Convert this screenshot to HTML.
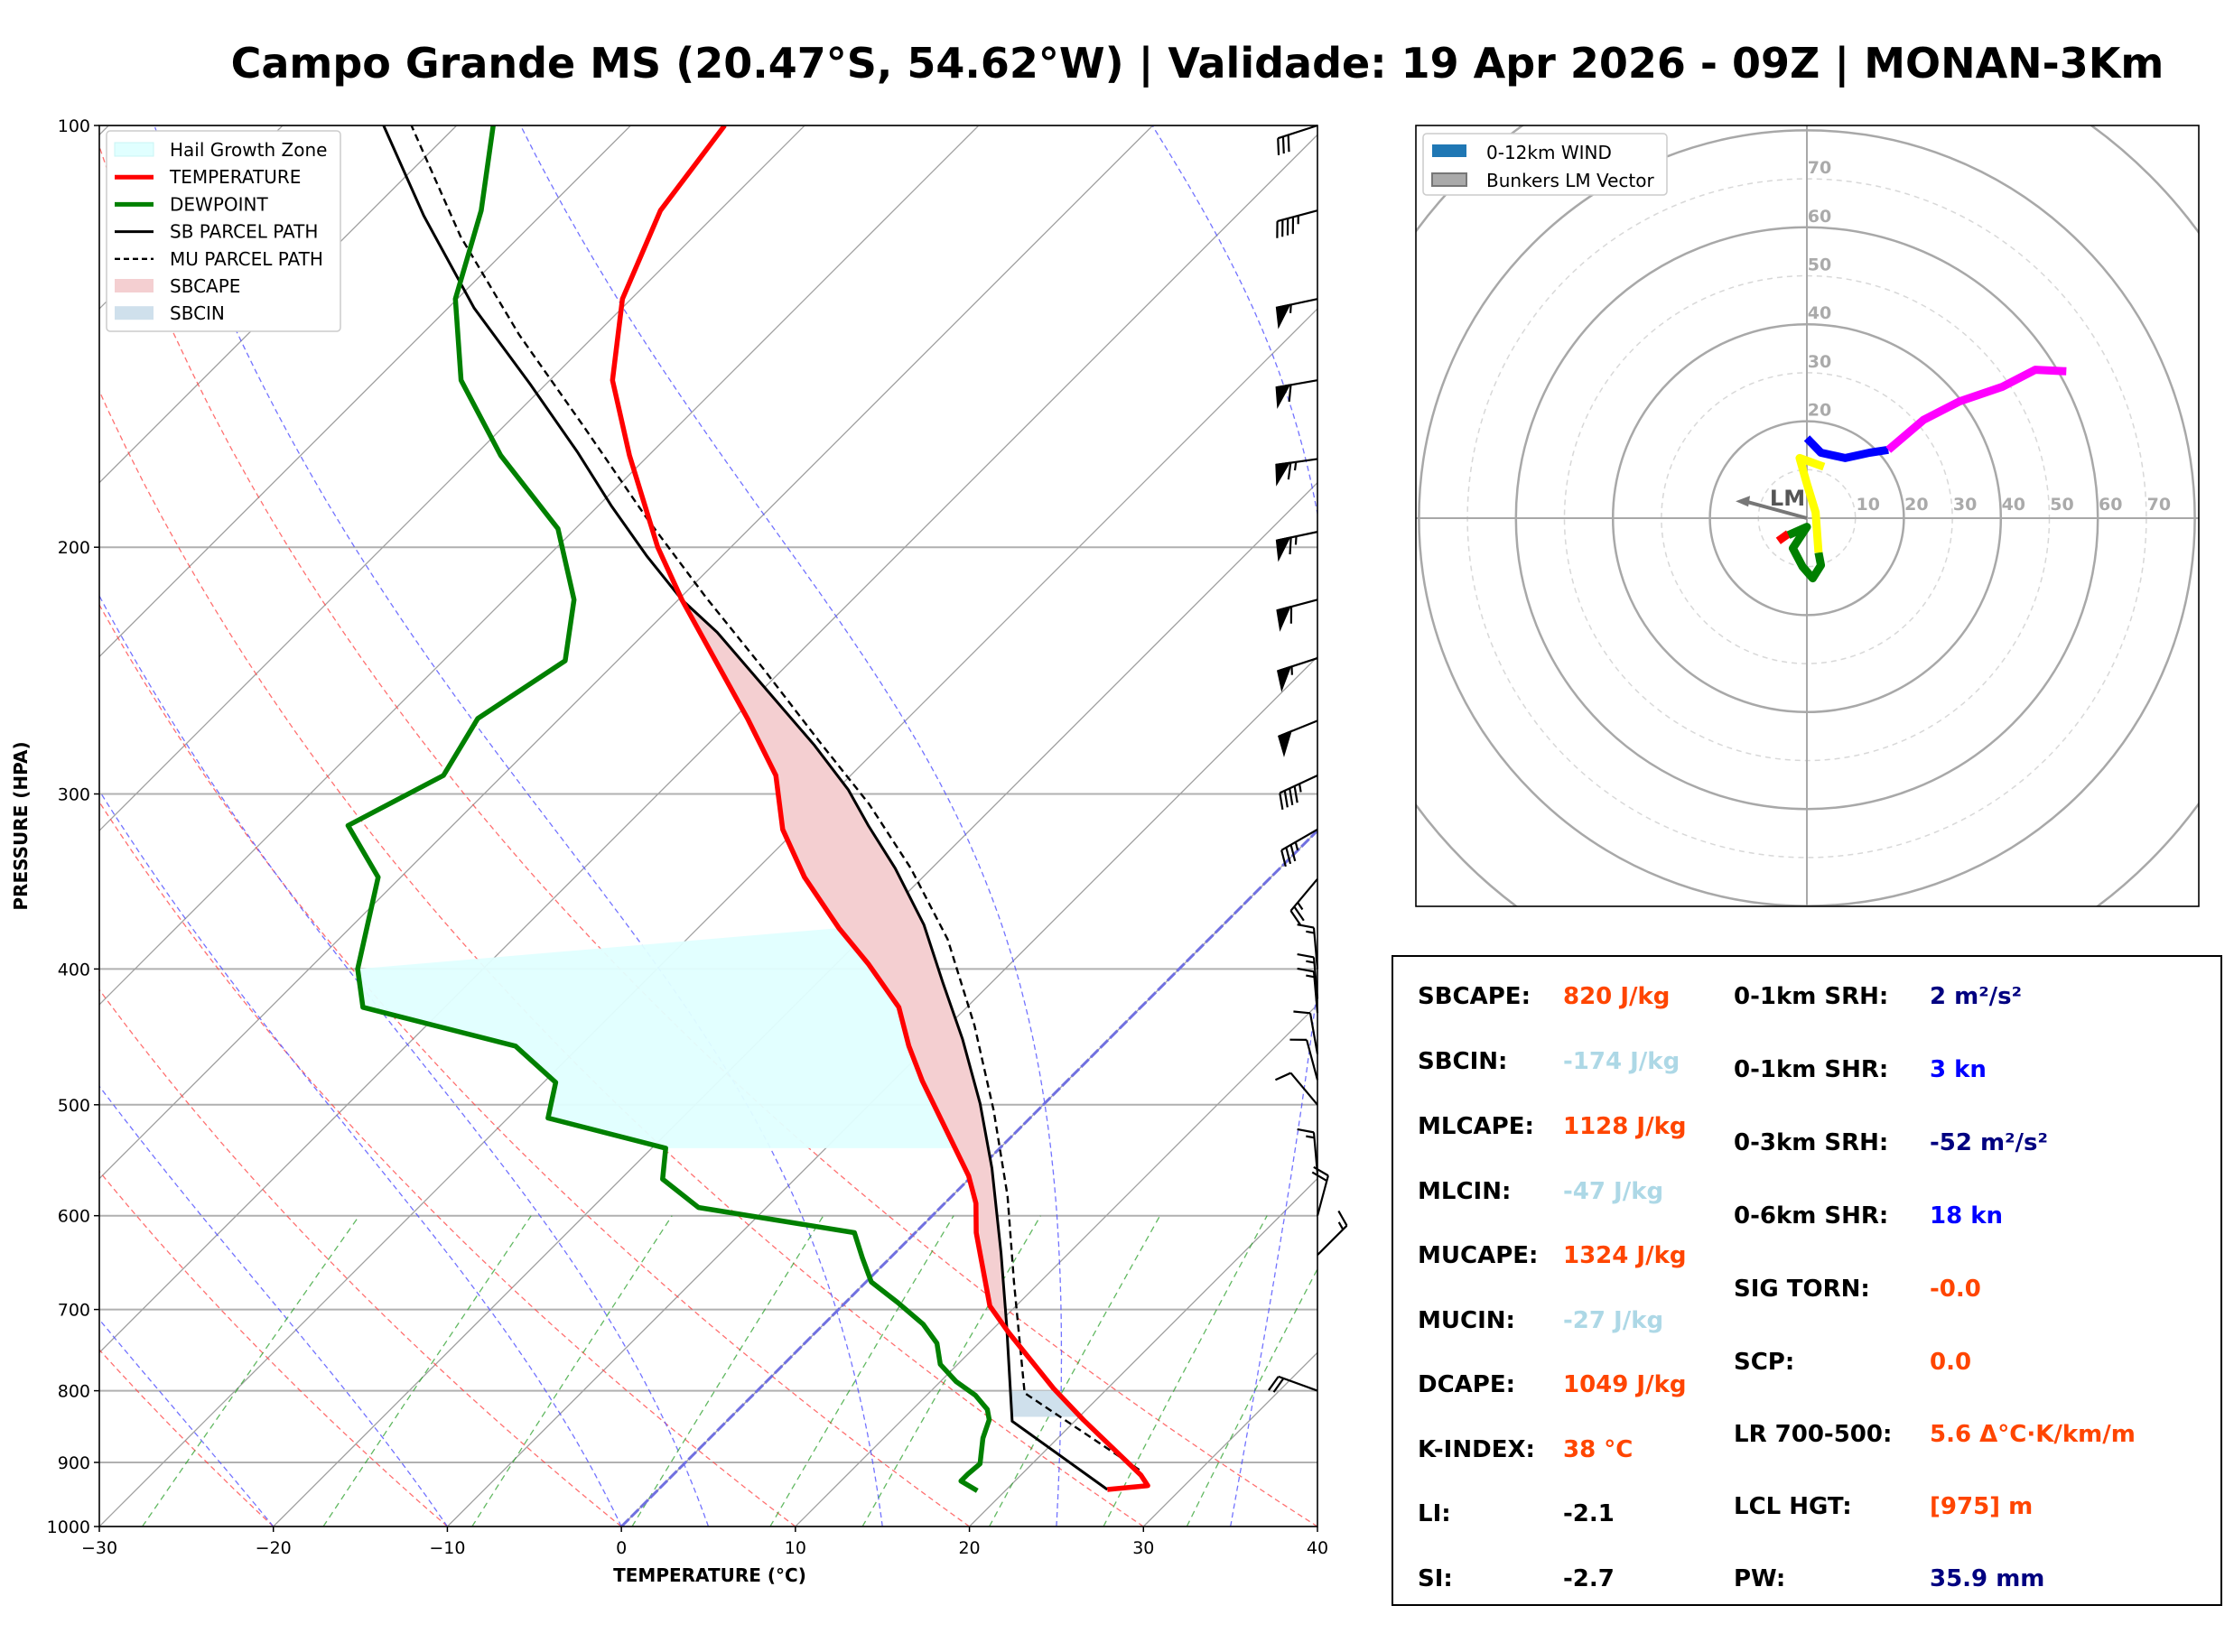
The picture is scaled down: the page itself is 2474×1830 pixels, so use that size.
<!DOCTYPE html>
<html><head><meta charset="utf-8"><style>
html,body{margin:0;padding:0;background:#fff;}
svg{display:block;font-family:"DejaVu Sans","Liberation Sans",sans-serif;}
</style></head><body>
<svg id="fig" width="2474" height="1830" viewBox="0 0 2474 1830" xmlns="http://www.w3.org/2000/svg">
<rect width="2474" height="1830" fill="#fff"/>
<text x="1326" y="86" text-anchor="middle" font-size="46" font-weight="bold">Campo Grande MS (20.47°S, 54.62°W) | Validade: 19 Apr 2026 - 09Z | MONAN-3Km</text>
<defs>
<clipPath id="skewclip"><rect x="110" y="139" width="1349" height="1552"/></clipPath>
<clipPath id="hodoclip"><rect x="1568" y="139" width="867" height="865"/></clipPath>
</defs>
<g id="skew"></g>
<g id="hodo"></g>
<g id="stats"></g>
</svg>
<script>
// ---- data (pressure hPa, temperature °C) ----
const tempP=[941,935,919,839,797,727,696,617,588,562,481,454,426,397,374,344,318,291,265,218,200,172,152,133,115,100];
const tempT=[25.8,27.9,26.9,20.4,16.9,11.1,8.5,3.5,1.8,-0.2,-8.3,-11.1,-13.9,-18.1,-21.9,-26.8,-30.8,-34.3,-39.2,-49.8,-54.2,-61.1,-66.4,-70.5,-73.4,-74.6];
const dewP=[943,928,917,902,865,839,825,806,788,766,740,717,692,669,643,617,592,565,537,511,482,454,426,400,344,316,291,265,241,218,194,172,152,133,115,100];
const dewT=[18.4,16.9,16.9,17.0,15.7,15.0,14.3,12.8,10.9,9.0,7.6,5.7,3.0,0.3,-1.6,-3.5,-13.9,-17.6,-19.2,-27.7,-29.3,-33.7,-44.7,-47.2,-51.3,-56.0,-53.4,-54.7,-53.0,-56.0,-61.0,-68.5,-75.1,-80.1,-83.7,-87.9];
const sbP=[941,841,717,638,555,499,449,409,372,339,316,298,277,253,230,218,203,187,171,153,135,116,100];
const sbT=[25.8,16.4,10.5,6.1,0.7,-3.7,-8.4,-12.8,-17.2,-22.1,-26.1,-29.3,-33.8,-39.7,-45.9,-49.8,-54.3,-59.2,-64.3,-70.9,-78.5,-86.7,-94.2];
const muP=[911,803,669,581,505,439,381,339,305,275,244,217,191,164,141,120,100];
const muT=[26.5,15.5,8.5,3.2,-2.5,-8.5,-15,-21.2,-27.3,-33.8,-41.2,-48.6,-56.4,-65.4,-74.4,-83.4,-92.6];
const pTicks=[100,200,300,400,500,600,700,800,900,1000];
const tTicks=[-30,-20,-10,0,10,20,30,40];
const barbP=[100,115,133,152,173,195,218,240,266,291,318,345,400,420,430,460,480,500,560,600,640,800];
const barbDir=[252,255,258,260,262,258,255,252,248,245,240,220,355,355,355,350,345,320,355,15,45,290];
const barbSpd=[30,45,55,60,65,65,60,55,50,45,35,25,15,15,15,10,10,10,15,20,15,20];
// hodograph (kt)
const hodoRedU=[-5.9,-3.8], hodoRedV=[-4.7,-3.2];
const hodoGreenU=[-3.8,0,-2.9,-0.9,1.2,2.9,2.4], hodoGreenV=[-3.5,-1.8,-6.2,-10,-12.4,-9.7,-7.1];
const hodoYellowU=[2.4,1.8,0,-1.5,3.5], hodoYellowV=[-7.1,1.2,7.1,12.4,10.6];
const hodoBlueU=[0,2.9,7.9,12.9,16.8], hodoBlueV=[16.5,13.5,12.4,13.5,14.1];
const hodoMagU=[16.8,24.1,31.5,40.3,47.1,53.5], hodoMagV=[14.1,20.3,24.1,27.1,30.6,30.3];
const lmU=-14.7, lmV=3.5;
const statLabels1=["SBCAPE:","SBCIN:","MLCAPE:","MLCIN:","MUCAPE:","MUCIN:","DCAPE:","K-INDEX:","LI:","SI:"];
const statValues1=["820 J/kg","-174 J/kg","1128 J/kg","-47 J/kg","1324 J/kg","-27 J/kg","1049 J/kg","38 °C","-2.1","-2.7"];
const statColors1=["#ff4500","#add8e6","#ff4500","#add8e6","#ff4500","#add8e6","#ff4500","#ff4500","#000","#000"];
const statLabels2=["0-1km SRH:","0-1km SHR:","0-3km SRH:","0-6km SHR:","SIG TORN:","SCP:","LR 700-500:","LCL HGT:","PW:"];
const statValues2=["2 m²/s²","3 kn","-52 m²/s²","18 kn","-0.0","0.0","5.6 Δ°C·K/km/m","[975] m","35.9 mm"];
const statColors2=["#000080","#0000ff","#000080","#0000ff","#ff4500","#ff4500","#ff4500","#ff4500","#000080"];

const NS="http://www.w3.org/2000/svg";
function mk(tag,attrs,parent){const e=document.createElementNS(NS,tag);for(const k in attrs)e.setAttribute(k,attrs[k]);parent.appendChild(e);return e;}
const X0=110,X1=1459,Y0=139,Y1=1691;
function yP(p){return Y1-Math.log10(1000/p)*(Y1-Y0);}
function xT(T,p){return X0+(T+30)*(X1-X0)/70+(Y1-yP(p));}
function pts(P,T){return P.map((p,i)=>xT(T[i],p).toFixed(1)+","+yP(p).toFixed(1)).join(" ");}
function interp(P,T,p){for(let i=0;i<P.length-1;i++){if((P[i]-p)*(P[i+1]-p)<=0){const f=(Math.log(p)-Math.log(P[i]))/(Math.log(P[i+1])-Math.log(P[i]));return T[i]+f*(T[i+1]-T[i]);}}return T[T.length-1];}

const skew=document.getElementById('skew');
const cg=mk('g',{'clip-path':'url(#skewclip)'},skew);


pTicks.forEach(p=>{const l=mk('line',{x1:X0,x2:X1,y1:yP(p),y2:yP(p),stroke:'#b0b0b0','stroke-width':2},cg);
});
for(let T=-150;T<=40;T+=10){const l=mk('line',{x1:xT(T,1000),y1:Y1,x2:xT(T,100),y2:Y0,stroke:'#a0a0a0','stroke-width':1.3},cg);
}
const pl=[];for(let p=1000;p>=100;p-=10)pl.push(p);
for(let T0=-60;T0<=40;T0+=10){const th=T0+273.15;const d=pl.map(p=>xT(th*Math.pow(p/1000,0.2857)-273.15,p).toFixed(1)+","+yP(p).toFixed(1)).join(" ");
const l=mk('polyline',{points:d,fill:'none',stroke:'#ff4040','stroke-width':1.3,'stroke-dasharray':'6,4',opacity:0.75},cg);
}
function es(t){return 6.112*Math.exp(17.67*t/(t+243.5));}
[-40,-30,-20,-10,0,5,15,25,35,45].forEach(T0=>{let T=T0+273.15,p=1000;const ar=[];
while(p>=100){ar.push(xT(T-273.15,p).toFixed(1)+","+yP(p).toFixed(1));
const e=es(T-273.15);const rs=0.622*e/(p-e);const Lv=2.501e6,Rd=287,Cp=1005;
const dTdp=(Rd*T+Lv*rs)/(p*(Cp+Lv*Lv*rs*0.622/(Rd*T*T)));T-=dTdp*5;p-=5;}
const l=mk('polyline',{points:ar.join(" "),fill:'none',stroke:'#5050ff','stroke-width':1.3,'stroke-dasharray':'6,4',opacity:0.8},cg);
});
[0.0004,0.001,0.002,0.004,0.007,0.01,0.016,0.024,0.032].forEach(w=>{const ar=[];
for(let p=1000;p>=600;p-=20){const e=w*p/(0.622+w);const l=Math.log(e/6.112);const td=243.5*l/(17.67-l);ar.push(xT(td,p).toFixed(1)+","+yP(p).toFixed(1));}
const l=mk('polyline',{points:ar.join(" "),fill:'none',stroke:'#2ca02c','stroke-width':1.3,'stroke-dasharray':'7,5',opacity:0.75},cg);
});
const z=mk('line',{x1:xT(0,1000),y1:Y1,x2:xT(0,100),y2:Y0,stroke:'#7070e0','stroke-width':3,'stroke-dasharray':'12,3'},cg);

(function(){const top=[xT(-47.2,400)+","+yP(400),xT(-21.9,374)+","+yP(374)];
const r=[];tempP.forEach((p,i)=>{if(p>=374&&p<=537)r.push(xT(tempT[i],p)+","+yP(p));});r.reverse();
r.push(xT(interp(tempP,tempT,537)+1.5,537)+","+yP(537));
const l=[];dewP.forEach((p,i)=>{if(p>=400&&p<=537)l.push(xT(dewT[i],p)+","+yP(p));});
const poly=top.concat(r).concat(l);
const h=mk('polygon',{points:poly.join(" "),fill:'#e0ffff',opacity:0.95},cg);
})();
(function(){const a=[];for(let p=727;p>=218;p-=5)a.push(xT(interp(sbP,sbT,p),p)+","+yP(p));
for(let p=218;p<=727;p+=5)a.push(xT(interp(tempP,tempT,p),p)+","+yP(p));
const c=mk('polygon',{points:a.join(" "),fill:'#f4cfd1'},cg);
const b=[];for(let p=835;p>=800;p-=5)b.push(xT(interp(sbP,sbT,p),p)+","+yP(p));
for(let p=800;p<=835;p+=5)b.push(xT(interp(tempP,tempT,p),p)+","+yP(p));
const n=mk('polygon',{points:b.join(" "),fill:'#cfe0ec'},cg);})();
const mu=mk('polyline',{points:pts(muP,muT),fill:'none',stroke:'#000','stroke-width':2.4,'stroke-dasharray':'8,5'},cg);

const sb=mk('polyline',{points:pts(sbP,sbT),fill:'none',stroke:'#000','stroke-width':3},cg);

const tl=mk('polyline',{points:pts(tempP,tempT),fill:'none',stroke:'#ff0000','stroke-width':5.5,'stroke-linejoin':'round'},cg);

const dl=mk('polyline',{points:pts(dewP,dewT),fill:'none',stroke:'#008000','stroke-width':5.5,'stroke-linejoin':'round'},cg);

const fr=mk('rect',{x:X0,y:Y0,width:X1-X0,height:Y1-Y0,fill:'none',stroke:'#000','stroke-width':1.6},skew);

// barbs
barbP.forEach((p,i)=>{const g=mk('g',{stroke:'#000','stroke-width':2.2,fill:'#000'},skew);

const d=barbDir[i]*Math.PI/180;const ux=Math.sin(d),uy=-Math.cos(d);const L=46;const bx=X1,by=yP(p);
const ex=bx+ux*L,ey=by+uy*L;mk('line',{x1:bx,y1:by,x2:ex,y2:ey},g);
const nx=uy,ny=-ux;let s=barbSpd[i];let pos=0;
while(s>=50){const a=L-pos;const x1=bx+ux*a,y1=by+uy*a,x2=bx+ux*(a-14),y2=by+uy*(a-14);
mk('polygon',{points:`${x1},${y1} ${x1+nx*20+ux*2},${y1+ny*20+uy*2} ${x2},${y2}`},g);pos+=16;s-=50;}
while(s>=10){const a=L-pos;const x1=bx+ux*a,y1=by+uy*a;mk('line',{x1:x1,y1:y1,x2:x1+nx*18+ux*5,y2:y1+ny*18+uy*5},g);pos+=6;s-=10;}
if(s>=5){const a=L-pos;const x1=bx+ux*a,y1=by+uy*a;mk('line',{x1:x1,y1:y1,x2:x1+nx*9+ux*2.5,y2:y1+ny*9+uy*2.5},g);}});
pTicks.forEach(p=>{const t=mk('text',{x:X0-10,y:yP(p)+7,'text-anchor':'end','font-size':19},skew);t.textContent=p;

mk('line',{x1:X0-6,x2:X0,y1:yP(p),y2:yP(p),stroke:'#000','stroke-width':1.5},skew);});
tTicks.forEach(T=>{const x=xT(T,1000);const t=mk('text',{x:x,y:Y1+30,'text-anchor':'middle','font-size':19},skew);t.textContent=T<0?'\u2212'+(-T):T;

mk('line',{x1:x,x2:x,y1:Y1,y2:Y1+6,stroke:'#000','stroke-width':1.5},skew);});
const xl=mk('text',{x:786,y:1752,'text-anchor':'middle','font-size':20,'font-weight':'bold'},skew);xl.textContent='TEMPERATURE (°C)';

const yl=mk('text',{x:30,y:915,'text-anchor':'middle','font-size':20,'font-weight':'bold',transform:'rotate(-90 30 915)'},skew);yl.textContent='PRESSURE (HPA)';

(function(){const g=mk('g',{},skew);
mk('rect',{x:118,y:145,width:259,height:222,fill:'#fff',stroke:'#ccc','stroke-width':1.5,rx:4},g);
const names=['Hail Growth Zone','TEMPERATURE','DEWPOINT','SB PARCEL PATH','MU PARCEL PATH','SBCAPE','SBCIN'];
names.forEach((n,i)=>{const y=166+i*30.2;const e=mk('g',{},g);
if(i==0)mk('rect',{x:127,y:y-8,width:43,height:15,fill:'#e0ffff',stroke:'#c8f4f4'},e);
if(i==1)mk('line',{x1:127,x2:170,y1:y,y2:y,stroke:'#f00','stroke-width':5},e);
if(i==2)mk('line',{x1:127,x2:170,y1:y,y2:y,stroke:'#008000','stroke-width':5},e);
if(i==3)mk('line',{x1:127,x2:170,y1:y,y2:y,stroke:'#000','stroke-width':3},e);
if(i==4)mk('line',{x1:127,x2:170,y1:y,y2:y,stroke:'#000','stroke-width':2.4,'stroke-dasharray':'6,4'},e);
if(i==5)mk('rect',{x:127,y:y-8,width:43,height:15,fill:'#f4cfd1'},e);
if(i==6)mk('rect',{x:127,y:y-8,width:43,height:15,fill:'#cfe0ec'},e);
const t=mk('text',{x:188,y:y+7,'font-size':20},e);t.textContent=n;});})();

// ---- hodograph ----
const hodo=document.getElementById('hodo');
const HX=2001,HY=574,HS=5.37;
function hx(u){return HX+u*HS;} function hy(v){return HY-v*HS;}
const hg=mk('g',{'clip-path':'url(#hodoclip)'},hodo);
[10,30,50,70].forEach(r=>{const c=mk('circle',{cx:HX,cy:HY,r:r*HS,fill:'none',stroke:'#d8d8d8','stroke-width':1.5,'stroke-dasharray':'6,5'},hg);});
[20,40,60,80,100].forEach(r=>{const c=mk('circle',{cx:HX,cy:HY,r:r*HS,fill:'none',stroke:'#a8a8a8','stroke-width':2.5},hg);});
mk('line',{x1:1568,x2:2435,y1:HY,y2:HY,stroke:'#a8a8a8','stroke-width':2},hg);
mk('line',{x1:HX,x2:HX,y1:139,y2:1004,stroke:'#a8a8a8','stroke-width':2},hg);
[10,20,30,40,50,60,70].forEach(r=>{const t=mk('text',{x:hx(r)+14,y:HY-9,'text-anchor':'middle','font-size':19,'font-weight':'bold',fill:'#aaa'},hodo);t.textContent=r;
if(r>=20){const t2=mk('text',{x:HX+14,y:hy(r)-6,'text-anchor':'middle','font-size':19,'font-weight':'bold',fill:'#aaa'},hodo);t2.textContent=r;}});
const LMx=hx(lmU),LMy=hy(lmV);
const lma=mk('line',{x1:HX,y1:HY,x2:LMx+10,y2:LMy,stroke:'#777','stroke-width':4},hodo);
mk('polygon',{points:`${LMx},${LMy} ${LMx+16},${LMy-6} ${LMx+14},${LMy+6}`,fill:'#777'},hodo);
const lmt=mk('text',{x:hx(-4),y:HY-14,'text-anchor':'middle','font-size':24,'font-weight':'bold',fill:'#555'},hodo);lmt.textContent='LM';
[[hodoRedU,hodoRedV,'#ff0000','hodo-segment-red'],[hodoGreenU,hodoGreenV,'#008000','hodo-segment-green'],[hodoYellowU,hodoYellowV,'#ffff00','hodo-segment-yellow'],[hodoBlueU,hodoBlueV,'#0000ff','hodo-segment-blue'],[hodoMagU,hodoMagV,'#ff00ff','hodo-segment-magenta']].forEach(s=>{
const l=mk('polyline',{points:s[0].map((u,i)=>hx(u)+","+hy(s[1][i])).join(" "),fill:'none',stroke:s[2],'stroke-width':9,'stroke-linejoin':'round'},hg);
});
mk('rect',{x:1568,y:139,width:867,height:865,fill:'none',stroke:'#000','stroke-width':1.6},hodo);
(function(){const g=mk('g',{},hodo);
mk('rect',{x:1576,y:148,width:270,height:68,fill:'#fff',stroke:'#ccc','stroke-width':1.5,rx:4},g);
mk('rect',{x:1586,y:160,width:38,height:14,fill:'#1f77b4'},g);
mk('rect',{x:1586,y:192,width:38,height:14,fill:'#aaa',stroke:'#777','stroke-width':2},g);
const a=mk('text',{x:1646,y:176,'font-size':20},g);a.textContent='0-12km WIND';
const b=mk('text',{x:1646,y:207,'font-size':20},g);b.textContent='Bunkers LM Vector';})();

// ---- stats ----
const st=document.getElementById('stats');
mk('rect',{x:1542,y:1059,width:918,height:719,fill:'#fff',stroke:'#000','stroke-width':2},st);
const rowY=[1112,1184,1256,1328,1399,1471,1542,1614,1685,1757];
statLabels1.forEach((s,i)=>{const a=mk('text',{x:1570,y:rowY[i],'font-size':26,'font-weight':'bold'},st);a.textContent=s;
const b=mk('text',{x:1731,y:rowY[i],'font-size':26,'font-weight':'bold',fill:statColors1[i]},st);b.textContent=statValues1[i];});
const rowY2=[1112,1193,1274,1355,1436,1517,1597,1677,1757];
statLabels2.forEach((s,i)=>{const a=mk('text',{x:1920,y:rowY2[i],'font-size':26,'font-weight':'bold'},st);a.textContent=s;
const b=mk('text',{x:2137,y:rowY2[i],'font-size':26,'font-weight':'bold',fill:statColors2[i]},st);b.textContent=statValues2[i];});
</script>
</body></html>
